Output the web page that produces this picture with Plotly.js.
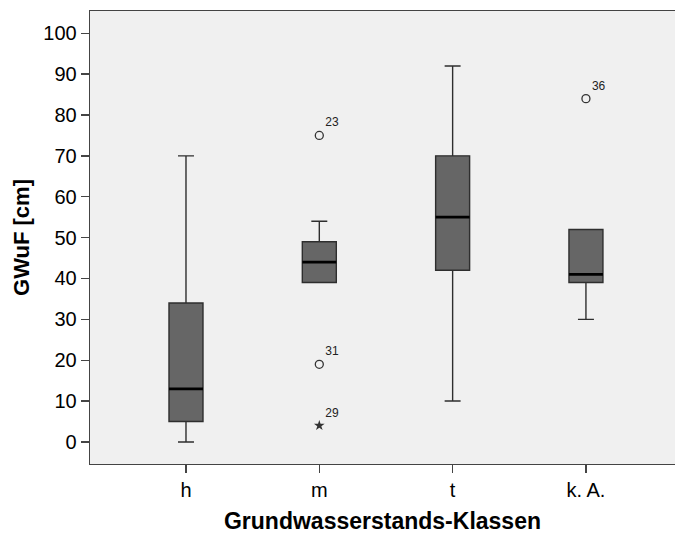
<!DOCTYPE html>
<html>
<head>
<meta charset="utf-8">
<script src="https://cdn.plot.ly/plotly-3.0.1.min.js"></script>
<style>html,body{margin:0;padding:0;background:#fff;}#chart{width:675px;height:534px;}</style>
</head>
<body>
<div id="chart"></div>
<script>
// Data
const categories = ["h", "m", "t", "k. A."];
const lowerWhisker = [0, 39, 10, 30];
const q1Values = [5, 39, 42, 39];
const medianValues = [13, 44, 55, 41];
const q3Values = [34, 49, 70, 52];
const upperWhisker = [70, 54, 92, 52];

// Outliers (circle) and extreme values (star)
const outlierCat = [1, 1, 3];
const outlierVal = [75, 19, 84];
const outlierLabel = ["23", "31", "36"];
const extremeCat = [1];
const extremeVal = [4];
const extremeLabel = ["29"];

const boxWidth = 0.255;
const positions = categories.map((c, i) => i);

const traces = [];
traces.push({
  type: "box",
  x: positions,
  q1: q1Values,
  median: medianValues,
  q3: q3Values,
  lowerfence: lowerWhisker,
  upperfence: upperWhisker,
  width: boxWidth,
  whiskerwidth: 0.47,
  fillcolor: "#666666",
  line: {color: "#2e2e2e", width: 1.4},
  boxpoints: false,
  hoverinfo: "skip",
  showlegend: false
});

// Thick median lines
const mx = [], my = [];
positions.forEach((p, i) => {
  mx.push(p - boxWidth / 2, p + boxWidth / 2, null);
  my.push(medianValues[i], medianValues[i], null);
});
traces.push({
  type: "scatter", mode: "lines", x: mx, y: my,
  line: {color: "#000000", width: 2.8},
  hoverinfo: "skip", showlegend: false
});

traces.push({
  type: "scatter", mode: "markers+text",
  x: outlierCat, y: outlierVal, text: outlierLabel,
  textposition: "top right",
  textfont: {family: "Liberation Sans, Arial, sans-serif", size: 12, color: "#222"},
  marker: {symbol: "circle-open", size: 8, color: "#333333", line: {width: 1.3}},
  cliponaxis: false, showlegend: false
});
traces.push({
  type: "scatter", mode: "markers+text",
  x: extremeCat, y: extremeVal, text: extremeLabel,
  textposition: "top right",
  textfont: {family: "Liberation Sans, Arial, sans-serif", size: 12, color: "#222"},
  marker: {symbol: "star", size: 8, color: "#333333"},
  cliponaxis: false, showlegend: false
});

const layout = {
  width: 675, height: 534,
  margin: {l: 90, r: 0, t: 11, b: 70},
  paper_bgcolor: "#ffffff",
  plot_bgcolor: "#f0f0f0",
  font: {family: "Liberation Sans, Arial, sans-serif", color: "#000"},
  showlegend: false,
  xaxis: {
    range: [-0.72, 3.668],
    tickmode: "array", tickvals: positions, ticktext: categories,
    showgrid: false, zeroline: false,
    showline: true, mirror: true, linecolor: "#444444", linewidth: 1.3,
    ticks: "outside", ticklen: 8, tickcolor: "#444444", tickwidth: 1.3,
    tickfont: {size: 20, color: "#000"},
    automargin: false,
    title: {text: "<b>Grundwasserstands-Klassen</b>", font: {size: 23, color: "#000"}, standoff: 13}
  },
  yaxis: {
    range: [-5.4, 105.45],
    tickmode: "array", tickvals: [0,10,20,30,40,50,60,70,80,90,100],
    showgrid: false, zeroline: false,
    showline: true, linecolor: "#444444", linewidth: 1.3,
    ticks: "outside", ticklen: 8, tickcolor: "#444444", tickwidth: 1.3,
    tickfont: {size: 20, color: "#000"},
    automargin: false,
    title: {text: "<b>GWuF [cm]</b>", font: {size: 22, color: "#000"}, standoff: 7}
  }
};

Plotly.newPlot("chart", traces, layout, {staticPlot: true, displayModeBar: false});
</script>
</body>
</html>
